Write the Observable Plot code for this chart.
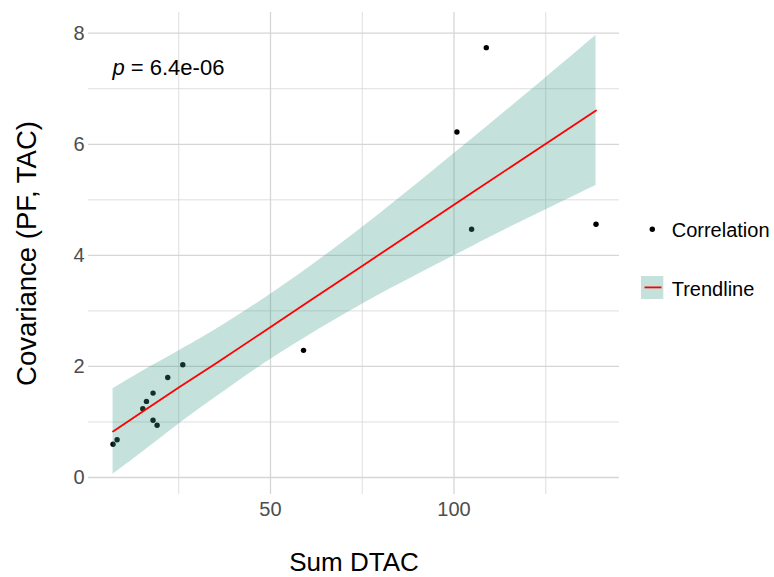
<!DOCTYPE html>
<html>
<head>
<meta charset="utf-8">
<script src="https://cdn.jsdelivr.net/npm/d3@7"></script>
<script src="https://cdn.jsdelivr.net/npm/@observablehq/plot@0.6"></script>
<style>
  body { margin: 0; background: #fff; font-family: "Liberation Sans", Arial, sans-serif; }
  #wrap { position: relative; width: 774px; height: 577px; }
  #wrap > svg.legend { position: absolute; left: 0; top: 0; pointer-events: none; }
</style>
</head>
<body>
<div id="wrap"></div>
<script>
// Scatter points
const sumDTAC = [7.1, 8.2, 15.2, 16.2, 18.0, 18.0, 19.1, 22.0, 26.1, 59.0, 100.8, 104.8, 108.8, 138.7];
const covariance = [0.60, 0.68, 1.24, 1.37, 1.52, 1.03, 0.94, 1.80, 2.03, 2.29, 6.22, 4.47, 7.74, 4.56];
// Trendline and its confidence band
const trendX = [7.1, 15, 25, 35, 47.3, 60, 75, 90, 105, 120, 138.7];
const trendY = [0.83, 1.18, 1.62, 2.05, 2.59, 3.15, 3.81, 4.47, 5.13, 5.79, 6.61];
const bandLow = [0.06, 0.45, 0.96, 1.44, 2.01, 2.54, 3.12, 3.65, 4.16, 4.66, 5.26];
const bandHigh = [1.60, 1.91, 2.28, 2.66, 3.18, 3.76, 4.50, 5.29, 6.10, 6.92, 7.96];
// Ticks
const xMajor = [50, 100];
const xMinor = [25, 75, 125];
const yMajor = [0, 2, 4, 6, 8];
const yMinor = [1, 3, 5, 7];
const pLabel = " = 6.4e-06";
const legendLabels = ["Correlation", "Trendline"];

const points = sumDTAC.map((x, i) => ({x, y: covariance[i]}));
const trend = trendX.map((x, i) => ({x, y: trendY[i], lo: bandLow[i], hi: bandHigh[i]}));

const gridColor = "#d6d6d6";
const bandColor = "#3a9a88";
const font = "'Liberation Sans', Arial, sans-serif";
const chart = Plot.plot({
  width: 774,
  height: 577,
  marginLeft: 88,
  marginRight: 155,
  marginTop: 12,
  marginBottom: 83,
  style: {fontFamily: font, background: "#fff"},
  x: {domain: [0.41, 145.1]},
  y: {domain: [-0.306, 8.373]},
  marks: [
    Plot.gridY(yMinor, {stroke: gridColor, strokeOpacity: 1, strokeWidth: 0.8}),
    Plot.gridY(yMajor, {stroke: gridColor, strokeOpacity: 1, strokeWidth: 1.3}),
    Plot.gridX(xMinor, {stroke: gridColor, strokeOpacity: 1, strokeWidth: 0.8}),
    Plot.gridX(xMajor, {stroke: gridColor, strokeOpacity: 1, strokeWidth: 1.3}),
    Plot.dot(points, {x: "x", y: "y", r: 2.7, fill: "#000", stroke: null}),
    Plot.areaY(trend, {x: "x", y1: "lo", y2: "hi", fill: bandColor, fillOpacity: 0.3, curve: "natural"}),
    Plot.line(trend, {x: "x", y: "y", stroke: "#ff0000", strokeWidth: 1.8}),
    Plot.axisY(yMajor, {tickSize: 0, tickPadding: 4, fontSize: 20, fill: "#4d4d4d", label: null, tickFormat: d => String(d)}),
    Plot.axisX(xMajor, {tickSize: 0, tickPadding: 7, fontSize: 20, fill: "#4d4d4d", label: null, tickFormat: d => String(d)}),
    Plot.text(["p"], {frameAnchor: "top-left", dx: 24, dy: 55, lineAnchor: "middle", fontSize: 22, fontStyle: "italic", textAnchor: "start", fill: "#000"}),
    Plot.text([pLabel], {frameAnchor: "top-left", dx: 36.2, dy: 55, lineAnchor: "middle", fontSize: 22, textAnchor: "start", fill: "#000"}),
    Plot.text(["Sum DTAC"], {frameAnchor: "bottom", dy: 68.5, lineAnchor: "middle", textAnchor: "middle", fontSize: 26, fill: "#000"}),
    Plot.text(["Covariance (PF, TAC)"], {frameAnchor: "left", dx: -61, rotate: -90, lineAnchor: "middle", textAnchor: "middle", fontSize: 27.5, fill: "#000"})
  ]
});
const wrap = document.getElementById("wrap");
wrap.appendChild(chart);

// Legend (drawn as an overlay to the right of the panel)
const ns = "http://www.w3.org/2000/svg";
const leg = document.createElementNS(ns, "svg");
leg.setAttribute("class", "legend");
leg.setAttribute("width", 774);
leg.setAttribute("height", 577);
leg.innerHTML = `
  <circle cx="652.3" cy="229.3" r="2.7" fill="#000"/>
  <text x="671.7" y="236.9" font-family="${font}" font-size="20" fill="#000">${legendLabels[0]}</text>
  <rect x="641" y="276" width="22.3" height="23" fill="${bandColor}" fill-opacity="0.3"/>
  <line x1="644.5" x2="661.5" y1="287.4" y2="287.4" stroke="#ff0000" stroke-width="1.8"/>
  <text x="671.7" y="295.5" font-family="${font}" font-size="20" fill="#000">${legendLabels[1]}</text>`;
wrap.appendChild(leg);
</script>
</body>
</html>
